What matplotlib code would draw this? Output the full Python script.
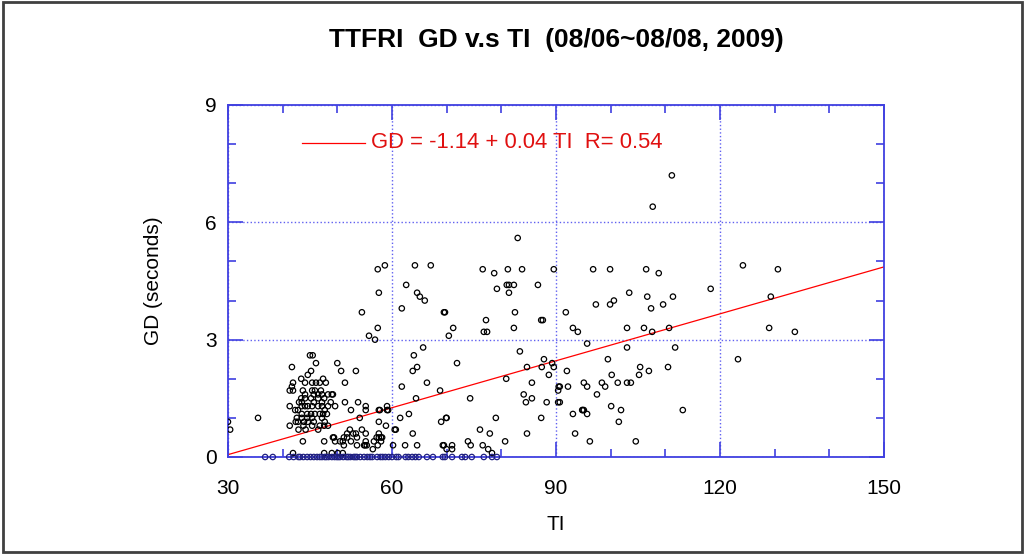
import matplotlib
matplotlib.use('Agg')
import matplotlib.pyplot as plt
from matplotlib.patches import Rectangle
from matplotlib.ticker import MultipleLocator

# TI / GD pairs
ti_zero = [36.8, 38.2, 41.2, 42.0, 42.9, 43.2, 43.8, 44.5, 45.1, 45.7, 46.3, 46.8, 47.2, 47.7,
           48.0, 48.4, 49.0, 49.5, 49.9, 50.2, 50.5, 51.1, 51.7, 52.0, 52.4, 53.0, 53.3, 53.6,
           54.2, 54.9, 55.5, 56.0, 56.4, 57.3, 57.9, 58.3, 58.8, 59.4, 60.0, 60.8, 61.2, 62.5,
           63.0, 63.7, 64.3, 64.9, 66.4, 67.5, 69.3, 69.7, 71.0, 72.8, 73.4, 74.6, 76.8, 78.3,
           79.2]

ti_pts = [30.0, 30.4, 35.5,
          45.0, 45.5, 41.7, 46.1, 50.0, 50.7, 45.2, 44.6, 43.4, 44.1, 41.9, 41.7, 45.4, 46.1,
          46.8, 47.4, 47.9, 41.3, 41.9, 43.7, 44.1, 45.4, 45.9, 47.0, 45.7, 46.5, 47.2, 48.3,
          49.0, 43.4, 44.1, 43.5, 43.0, 45.2, 45.7, 46.5, 47.2, 47.6, 48.8, 49.6, 48.3, 41.3,
          42.3, 42.8, 43.5, 44.1, 44.6, 45.4, 46.5, 47.2, 47.7, 43.5, 44.5, 45.2, 45.9, 46.8,
          47.4, 48.1, 42.6, 43.5, 44.5, 45.4, 47.2, 42.4, 42.8, 43.9, 44.6, 45.7, 47.7, 41.3,
          42.9, 43.8, 44.2, 45.4, 46.8, 46.5, 47.6, 43.7, 47.6, 49.2, 49.6, 41.9, 47.6, 49.0,
          50.1, 51.0,
          53.4, 51.4, 49.2, 51.4, 53.8, 55.2, 52.5, 54.1, 55.2, 57.8, 59.3, 61.5, 61.8, 63.1,
          64.4, 63.8, 64.0, 48.3, 50.5, 51.2, 51.2, 51.8, 52.9, 53.4, 55.2, 55.4, 54.9, 56.5,
          57.2, 57.6, 58.2, 57.4, 58.9, 60.5, 62.4, 64.6, 63.8,
          58.7, 57.4, 64.2, 67.1, 62.6, 57.6, 64.6, 65.1, 66.0, 54.5, 61.8, 69.7, 57.4, 55.8,
          56.9, 70.4, 65.7, 64.6, 66.4, 68.8, 59.1, 59.1, 57.6, 70.0, 69.0, 57.6, 60.7, 52.3,
          54.5, 55.2, 57.6, 58.0, 49.4, 51.0, 51.8, 52.5, 53.6, 55.1, 56.7, 58.0, 60.2, 69.3,
          70.0, 53.6,
          69.5, 71.0, 71.0, 73.9, 74.4, 76.6, 77.6, 78.3, 76.1, 77.9, 80.7, 79.0, 84.7, 87.3,
          69.9, 74.3, 71.9, 80.9, 83.4, 84.7, 85.6, 84.1, 85.6, 84.5, 88.3, 87.4, 87.8, 88.7,
          89.3, 89.6, 90.4, 90.5, 90.4, 92.0, 92.2, 83.0, 76.6, 78.7, 81.2, 83.8, 89.6, 81.0,
          81.4, 82.3, 79.2, 81.4, 86.7, 69.5, 77.2, 82.5, 71.2, 76.8, 77.4, 82.3, 87.3, 87.6,
          91.8,
          111.2, 107.7, 96.8, 99.9, 106.5, 108.8, 103.4, 106.7, 111.4, 97.3, 99.9, 100.6, 107.4,
          109.6, 93.1, 94.0, 103.0, 106.1, 107.6, 110.7, 95.7, 103.0, 111.8, 99.5, 100.2, 105.4,
          105.2, 107.0, 110.5, 90.7, 95.1, 95.7, 98.4, 99.0, 101.3, 103.0, 103.7, 97.5, 90.7,
          94.9, 95.1, 93.1, 94.8, 95.7, 100.1, 101.9, 101.5, 93.5, 96.2, 104.6, 113.2,
          124.2, 130.6, 118.3, 129.3, 129.0, 133.7, 123.3]

gd_pts = [0.9, 0.7, 1.0,
          2.6, 2.6, 2.3, 2.4, 2.4, 2.2, 2.2, 2.1, 2.0, 1.9, 1.9, 1.8, 1.9, 1.9,
          1.9, 2.0, 1.9, 1.7, 1.7, 1.7, 1.6, 1.7, 1.7, 1.7, 1.6, 1.6, 1.6, 1.6,
          1.6, 1.5, 1.5, 1.4, 1.4, 1.5, 1.4, 1.5, 1.4, 1.5, 1.4, 1.3, 1.3, 1.3,
          1.2, 1.2, 1.3, 1.3, 1.3, 1.3, 1.3, 1.3, 1.2, 1.1, 1.1, 1.1, 1.1, 1.1,
          1.1, 1.1, 1.0, 1.0, 1.0, 1.0, 1.0, 0.9, 0.9, 0.9, 0.9, 0.9, 0.9, 0.8,
          0.7, 0.8, 0.7, 0.8, 0.8, 0.7, 0.8, 0.4, 0.4, 0.5, 0.4, 0.1, 0.1, 0.1,
          0.1, 0.1,
          2.2, 1.9, 1.6, 1.4, 1.4, 1.3, 1.2, 1.0, 1.2, 1.2, 1.2, 1.0, 1.8, 1.1,
          1.5, 2.2, 2.6, 0.8, 0.4, 0.5, 0.3, 0.6, 0.6, 0.6, 0.4, 0.3, 0.3, 0.2,
          0.5, 0.5, 0.5, 0.3, 0.8, 0.7, 0.3, 0.3, 0.6,
          4.9, 4.8, 4.9, 4.9, 4.4, 4.2, 4.2, 4.1, 4.0, 3.7, 3.8, 3.7, 3.3, 3.1,
          3.0, 3.1, 2.8, 2.3, 1.9, 1.7, 1.3, 1.2, 1.2, 1.0, 0.9, 0.9, 0.7, 0.7,
          0.7, 0.6, 0.6, 0.5, 0.5, 0.4, 0.5, 0.4, 0.5, 0.3, 0.4, 0.4, 0.3, 0.3,
          0.2, 0.3,
          0.3, 0.3, 0.2, 0.4, 0.3, 0.3, 0.2, 0.1, 0.7, 0.6, 0.4, 1.0, 0.6, 1.0,
          1.0, 1.5, 2.4, 2.0, 2.7, 2.3, 1.9, 1.6, 1.5, 1.4, 1.4, 2.3, 2.5, 2.1,
          2.4, 2.3, 1.7, 1.8, 1.4, 2.2, 1.8, 5.6, 4.8, 4.7, 4.8, 4.8, 4.8, 4.4,
          4.4, 4.4, 4.3, 4.2, 4.4, 3.7, 3.5, 3.7, 3.3, 3.2, 3.2, 3.3, 3.5, 3.5,
          3.7,
          7.2, 6.4, 4.8, 4.8, 4.8, 4.7, 4.2, 4.1, 4.1, 3.9, 3.9, 4.0, 3.8,
          3.9, 3.3, 3.2, 3.3, 3.3, 3.2, 3.3, 2.9, 2.8, 2.8, 2.5, 2.1, 2.3,
          2.1, 2.2, 2.3, 1.8, 1.9, 1.8, 1.9, 1.8, 1.9, 1.9, 1.9, 1.6, 1.4,
          1.2, 1.2, 1.1, 1.2, 1.1, 1.3, 1.2, 0.9, 0.6, 0.4, 0.4, 1.2,
          4.9, 4.8, 4.3, 4.1, 3.3, 3.2, 2.5]

# regression: GD = a + b * TI
fit_a = -1.14
fit_b = 0.04
fit_r = 0.54
fit_x = [30, 150]

blue = '#4040e0'

def main():
    fig = plt.figure(figsize=(10.25, 5.54), dpi=100)
    ax = fig.add_axes([0.2224, 0.1751, 0.64, 0.6354])

    # points
    ax.scatter(ti_pts, gd_pts, s=15, facecolors='none', edgecolors='black',
               linewidths=0.9, zorder=3)
    ax.scatter(ti_zero, [0] * len(ti_zero), s=15, facecolors='none',
               edgecolors='#202080', linewidths=0.9, zorder=4, clip_on=False)

    # fit line
    fit_y = [fit_a + fit_b * x for x in fit_x]
    ax.plot(fit_x, fit_y, color='red', lw=0.9, zorder=2)

    # legend-like entry
    ax.plot([43.5, 55.0], [8.03, 8.03], color='red', lw=0.9)
    ax.text(56.2, 8.03, f'GD = {fit_a} + {fit_b} TI  R= {fit_r}', color='#e01010',
            fontsize=15.8, family='Liberation Sans', va='center', ha='left')

    ax.set_xlim(30, 150)
    ax.set_ylim(0, 9)
    ax.xaxis.set_major_locator(MultipleLocator(30))
    ax.xaxis.set_minor_locator(MultipleLocator(10))
    ax.yaxis.set_major_locator(MultipleLocator(3))
    ax.yaxis.set_minor_locator(MultipleLocator(1))
    ax.tick_params(which='both', direction='in', top=True, right=True, color=blue,
                   labelsize=15)
    ax.tick_params(axis='x', pad=16)
    ax.tick_params(axis='y', pad=8)
    ax.tick_params(which='major', length=11, width=1.2)
    ax.tick_params(which='minor', length=6, width=1.2)
    for lab in ax.get_xticklabels() + ax.get_yticklabels():
        lab.set_family('Liberation Sans')
    for s in ax.spines.values():
        s.set_color(blue)
        s.set_linewidth(1.3)
    ax.grid(True, which='major', color='#6060f0', ls=':', lw=1.0)

    ax.set_xlabel('TI', fontsize=15, family='Liberation Sans', labelpad=12)
    ax.set_ylabel('GD (seconds)', fontsize=15, family='Liberation Sans', labelpad=30)

    fig.text(0.5425, 0.928, 'TTFRI  GD v.s TI  (08/06~08/08, 2009)', ha='center',
             va='center', fontsize=19, fontweight='bold',
             family=['Liberation Sans Narrow', 'Liberation Sans'])

    # frame around the figure
    fig.patches.append(Rectangle((0.003, 0.004), 0.994, 0.992, transform=fig.transFigure,
                                 fill=False, edgecolor='#404040', lw=2))

    fig.savefig('out.png', dpi=100)

if __name__ == '__main__':
    main()
